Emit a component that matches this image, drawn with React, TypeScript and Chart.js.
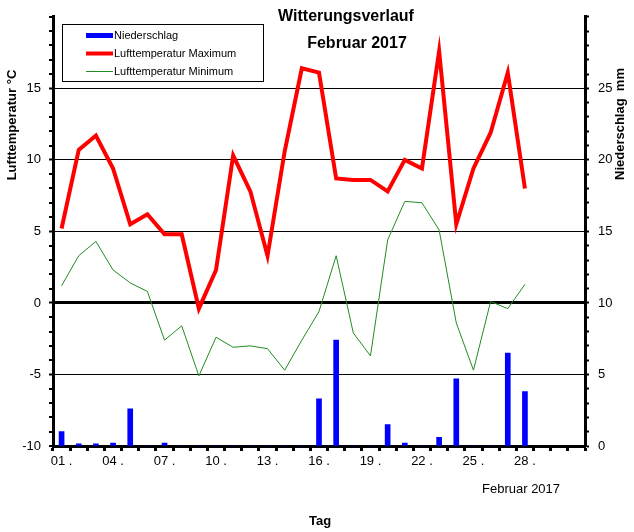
import React, { useEffect, useRef } from 'react';
import { Chart, registerables } from 'chart.js';

Chart.register(...registerables);

const dayLabels = [
  '01 .', '', '', '04 .', '', '', '07 .', '', '', '10 .', '', '', '13 .', '', '', '16 .',
  '', '', '19 .', '', '', '22 .', '', '', '25 .', '', '', '28 .', '', '', '',
];

const tempMax = [5.2, 10.7, 11.7, 9.4, 5.5, 6.2, 4.8, 4.8, -0.4, 2.3, 10.3, 7.8, 3.3, 10.6, 16.4, 16.1, 8.7, 8.6, 8.6, 7.8, 10.0, 9.4, 17.6, 5.5, 9.4, 11.9, 16.1, 8.0];
const tempMin = [1.2, 3.3, 4.3, 2.3, 1.4, 0.8, -2.6, -1.6, -5.1, -2.4, -3.1, -3.0, -3.2, -4.7, -2.6, -0.6, 3.3, -2.1, -3.7, 4.4, 7.1, 7.0, 5.1, -1.4, -4.7, 0.1, -0.4, 1.3];
const precip = [1.0, 0.15, 0.15, 0.2, 2.6, 0, 0.2, 0, 0, 0, 0, 0, 0, 0, 0, 3.3, 7.4, 0, 0, 1.5, 0.2, 0, 0.6, 4.7, 0, 0, 6.5, 3.8];

const tempTicks = [-10, -5, 0, 5, 10, 15];
const precipTicks = [0, 5, 10, 15, 20, 25];

const FONT = '"Liberation Sans", Arial, sans-serif';

const overlay = {
  id: 'overlay',
  afterDraw(chart: any) {
    const ctx = chart.ctx as CanvasRenderingContext2D;
    ctx.save();
    ctx.fillStyle = '#000';
    ctx.textAlign = 'center';
    ctx.textBaseline = 'alphabetic';
    ctx.font = `bold 16px ${FONT}`;
    ctx.fillText('Witterungsverlauf', 346, 21);
    ctx.fillText('Februar 2017', 357, 48);

    // legend
    ctx.fillStyle = '#fff';
    ctx.fillRect(62, 24, 201, 57);
    ctx.strokeStyle = '#000';
    ctx.lineWidth = 1;
    ctx.strokeRect(62.5, 24.5, 201, 57);
    ctx.fillStyle = '#0000ff';
    ctx.fillRect(86, 33, 27, 5);
    ctx.strokeStyle = '#ff0000';
    ctx.lineWidth = 4;
    ctx.beginPath();
    ctx.moveTo(86, 53.5);
    ctx.lineTo(113, 53.5);
    ctx.stroke();
    ctx.strokeStyle = '#228B22';
    ctx.lineWidth = 1;
    ctx.beginPath();
    ctx.moveTo(86, 71.5);
    ctx.lineTo(113, 71.5);
    ctx.stroke();
    ctx.fillStyle = '#000';
    ctx.textAlign = 'left';
    ctx.textBaseline = 'middle';
    ctx.font = `11px ${FONT}`;
    ctx.fillText('Niederschlag', 114, 35.5);
    ctx.fillText('Lufttemperatur Maximum', 114, 53.5);
    ctx.fillText('Lufttemperatur Minimum', 114, 71.5);

    // axis titles
    ctx.textAlign = 'center';
    ctx.textBaseline = 'alphabetic';
    ctx.font = `bold 13px ${FONT}`;
    ctx.save();
    ctx.translate(16, 125);
    ctx.rotate(-Math.PI / 2);
    ctx.fillText('Lufttemperatur °C', 0, 0);
    ctx.restore();
    ctx.save();
    ctx.translate(624, 124);
    ctx.rotate(-Math.PI / 2);
    ctx.fillText('Niederschlag  mm', 0, 0);
    ctx.restore();
    ctx.fillText('Tag', 320, 525);

    ctx.textAlign = 'left';
    ctx.font = `13px ${FONT}`;
    ctx.fillText('Februar 2017', 482, 493);
    ctx.restore();
  },
};

export default function App() {
  const ref = useRef<HTMLCanvasElement>(null);
  useEffect(() => {
    if (!ref.current) return;
    const chart = new Chart(ref.current, {
      type: 'bar',
      data: {
        labels: dayLabels,
        datasets: [
          {
            type: 'line',
            label: 'Lufttemperatur Maximum',
            data: tempMax,
            borderColor: '#ff0000',
            backgroundColor: '#ff0000',
            borderWidth: 4,
            pointRadius: 0,
            tension: 0,
            yAxisID: 'y',
            order: 1,
          } as any,
          {
            type: 'line',
            label: 'Lufttemperatur Minimum',
            data: tempMin,
            borderColor: '#228B22',
            backgroundColor: '#228B22',
            borderWidth: 1,
            pointRadius: 0,
            tension: 0,
            yAxisID: 'y',
            order: 2,
          } as any,
          {
            type: 'bar',
            label: 'Niederschlag',
            data: precip,
            backgroundColor: '#0000ff',
            barThickness: 5,
            yAxisID: 'y1',
            order: 3,
          } as any,
        ],
      },
      options: {
        responsive: false,
        animation: false,
        devicePixelRatio: 1,
        layout: { padding: { top: 14, left: 0, right: 0, bottom: 0 } },
        plugins: {
          legend: { display: false },
          title: { display: false },
          tooltip: { enabled: false },
        },
        scales: {
          x: {
            offset: true,
            grid: {
              offset: true,
              drawOnChartArea: false,
              drawTicks: true,
              tickLength: 5,
              tickWidth: 3,
              color: '#000',
              tickColor: '#000',
            },
            border: { display: true, color: '#000', width: 3 },
            ticks: {
              autoSkip: false,
              maxRotation: 0,
              minRotation: 0,
              padding: 3,
              color: '#000',
              font: { family: FONT, size: 13 },
            },
            afterFit: (s: any) => { s.height = 86; },
          },
          y: {
            position: 'left',
            min: -10,
            max: 20,
            ticks: {
              stepSize: 1,
              autoSkip: false,
              padding: 8,
              color: '#000',
              font: { family: FONT, size: 13 },
              callback: (v: any) => (tempTicks.includes(Number(v)) ? String(v) : ''),
            },
            grid: {
              drawOnChartArea: true,
              drawTicks: true,
              tickLength: 4,
              tickWidth: 2,
              tickColor: '#000',
              color: (c: any) => {
                const v = c.tick ? c.tick.value : null;
                if (v === 0) return '#000';
                if (v !== null && v % 5 === 0 && v > -10 && v < 20) return '#000';
                return 'rgba(0,0,0,0)';
              },
              lineWidth: (c: any) => {
                const v = c.tick ? c.tick.value : null;
                if (v === 0) return 3;
                if (v !== null && v % 5 === 0 && v > -10 && v < 20) return 1;
                return 0;
              },
            },
            border: { display: true, color: '#000', width: 3 },
            afterFit: (s: any) => { s.width = 53; },
          },
          y1: {
            position: 'right',
            min: 0,
            max: 30,
            ticks: {
              stepSize: 1,
              autoSkip: false,
              padding: 9,
              color: '#000',
              font: { family: FONT, size: 13 },
              callback: (v: any) => (precipTicks.includes(Number(v)) ? String(v) : ''),
            },
            grid: {
              drawOnChartArea: false,
              drawTicks: true,
              tickLength: 4,
              tickWidth: 2,
              tickColor: '#000',
              color: '#000',
            },
            border: { display: true, color: '#000', width: 3 },
            afterFit: (s: any) => { s.width = 49; },
          },
        },
      },
      plugins: [overlay],
    });
    return () => chart.destroy();
  }, []);
  return (
    <div style={{ position: 'absolute', left: 0, top: 0, width: 634, height: 532, background: '#fff' }}>
      <canvas ref={ref} width={634} height={532} style={{ display: 'block' }} />
    </div>
  );
}
